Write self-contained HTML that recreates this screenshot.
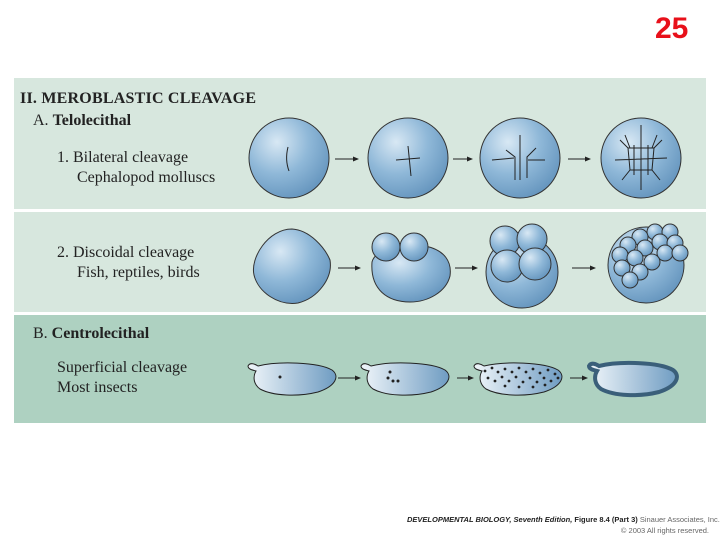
<!DOCTYPE html>
<html><head><style>
body{margin:0;width:720px;height:540px;background:#fff;overflow:hidden;font-family:"Liberation Serif",serif;}
</style></head><body>
<svg width="720" height="540" xmlns="http://www.w3.org/2000/svg">
<defs>
<radialGradient id="g" cx="0.35" cy="0.3" r="0.8">
<stop offset="0" stop-color="#d8e8f4"/><stop offset="0.5" stop-color="#8fb8d8"/><stop offset="1" stop-color="#5f90ba"/>
</radialGradient>
<linearGradient id="e" x1="0" y1="0" x2="1" y2="0">
<stop offset="0" stop-color="#f0f6fa"/><stop offset="1" stop-color="#6f9cc2"/>
</linearGradient>
<marker id="a" markerWidth="6" markerHeight="6" refX="5" refY="3" orient="auto"><path d="M0,0.5 L6,3 L0,5.5z" fill="#222"/></marker>
<path id="egg" d="M0,4 C2,0 7,2 10,4 C30,-1 70,0 84,8 C92,14 88,24 70,30 C50,35 25,34 12,27 C5,22 5,14 8,9 C4,8 0,7 0,4z"/>
</defs>
<text x="655" y="38" font-family="Liberation Sans" font-weight="bold" font-size="30" fill="#e8101a">25</text>
<rect x="14" y="78" width="692" height="131" fill="#d7e7de"/>
<rect x="14" y="212" width="692" height="100" fill="#d7e7de"/>
<rect x="14" y="315" width="692" height="108" fill="#aed1c1"/>
<g fill="#222" font-size="16">
<text x="20" y="103" font-weight="bold" textLength="236">II.  MEROBLASTIC CLEAVAGE</text>
<text x="33" y="125">A.  <tspan font-weight="bold">Telolecithal</tspan></text>
<text x="57" y="162">1.  Bilateral cleavage</text>
<text x="77" y="182">Cephalopod molluscs</text>
<text x="57" y="257">2.  Discoidal cleavage</text>
<text x="77" y="277">Fish, reptiles, birds</text>
<text x="33" y="338">B.  <tspan font-weight="bold">Centrolecithal</tspan></text>
<text x="57" y="372">Superficial cleavage</text>
<text x="57" y="392">Most insects</text>
</g>
<g stroke="#333" stroke-width="1" fill="url(#g)">
<circle cx="289" cy="158" r="40"/>
<circle cx="408" cy="158" r="40"/>
<circle cx="520" cy="158" r="40"/>
<circle cx="641" cy="158" r="40"/>
<path d="M292,229 C310,230 325,248 330,260 C333,278 318,298 298,303 C278,306 258,292 254,275 C250,258 268,229 292,229z"/>
<path d="M372,262 C375,250 395,245 425,246 C445,250 452,262 450,276 C446,292 428,302 410,302 C388,302 370,290 372,262z"/>
<circle cx="386" cy="247" r="14"/><circle cx="414" cy="247" r="14"/>
<circle cx="522" cy="272" r="36"/>
<circle cx="505" cy="241" r="15"/><circle cx="532" cy="239" r="15"/>
<circle cx="507" cy="266" r="16"/><circle cx="535" cy="264" r="16"/>
<circle cx="646" cy="265" r="38"/>
<g>
<circle cx="655" cy="232" r="8"/><circle cx="670" cy="232" r="8"/><circle cx="640" cy="237" r="8"/><circle cx="660" cy="242" r="8"/><circle cx="675" cy="243" r="8"/>
<circle cx="628" cy="245" r="8"/><circle cx="645" cy="248" r="8"/><circle cx="665" cy="253" r="8"/><circle cx="680" cy="253" r="8"/>
<circle cx="620" cy="255" r="8"/><circle cx="635" cy="258" r="8"/><circle cx="652" cy="262" r="8"/>
<circle cx="622" cy="268" r="8"/><circle cx="640" cy="272" r="8"/><circle cx="630" cy="280" r="8"/>
</g>
</g>
<g stroke="#222" fill="none" stroke-width="1">
<path d="M288,147 C286,155 286,163 289,171"/>
<path d="M396,160 L420,158 M408,146 L411,176"/>
<path d="M506,150 L515,157 L515,180 M520,135 L520,180 M536,148 L527,157 L527,178 M492,160 L514,158 M528,160 L545,160"/>
<path d="M615,160 L667,158 M641,125 L641,190 M620,140 L628,148 L630,170 L622,180 M662,140 L654,148 L652,170 L660,180 M628,148 L654,148 M630,170 L652,170 M634,145 L634,175 M648,145 L648,175 M625,135 L630,148 M657,135 L652,148"/>
</g>
<g stroke="#222" stroke-width="1" fill="url(#e)">
<use href="#egg" x="248" y="362"/>
<use href="#egg" x="361" y="362"/>
<use href="#egg" x="474" y="362"/>
<use href="#egg" x="589" y="362" stroke="#3a5f7a" stroke-width="4"/>
</g>
<g fill="#222">
<circle cx="280" cy="377" r="1.5"/>
<circle cx="390" cy="372" r="1.5"/><circle cx="388" cy="378" r="1.5"/><circle cx="393" cy="381" r="1.5"/><circle cx="398" cy="381" r="1.5"/>
<circle cx="485" cy="371" r="1.4"/><circle cx="492" cy="368" r="1.4"/><circle cx="498" cy="372" r="1.4"/><circle cx="505" cy="369" r="1.4"/><circle cx="512" cy="372" r="1.4"/><circle cx="519" cy="368" r="1.4"/><circle cx="526" cy="372" r="1.4"/><circle cx="533" cy="369" r="1.4"/><circle cx="540" cy="373" r="1.4"/><circle cx="548" cy="370" r="1.4"/><circle cx="555" cy="374" r="1.4"/>
<circle cx="488" cy="378" r="1.4"/><circle cx="495" cy="381" r="1.4"/><circle cx="502" cy="377" r="1.4"/><circle cx="509" cy="381" r="1.4"/><circle cx="516" cy="377" r="1.4"/><circle cx="523" cy="382" r="1.4"/><circle cx="530" cy="378" r="1.4"/><circle cx="537" cy="382" r="1.4"/><circle cx="544" cy="378" r="1.4"/><circle cx="551" cy="381" r="1.4"/><circle cx="558" cy="378" r="1.4"/>
<circle cx="505" cy="386" r="1.4"/><circle cx="519" cy="387" r="1.4"/><circle cx="533" cy="387" r="1.4"/><circle cx="545" cy="385" r="1.4"/>
</g>
<g stroke="#222" stroke-width="1" marker-end="url(#a)">
<line x1="335" y1="159" x2="358" y2="159"/><line x1="453" y1="159" x2="472" y2="159"/><line x1="568" y1="159" x2="590" y2="159"/>
<line x1="338" y1="268" x2="360" y2="268"/><line x1="455" y1="268" x2="477" y2="268"/><line x1="572" y1="268" x2="595" y2="268"/>
<line x1="338" y1="378" x2="360" y2="378"/><line x1="457" y1="378" x2="473" y2="378"/><line x1="570" y1="378" x2="587" y2="378"/>
</g>
<text x="407" y="522" font-family="Liberation Sans" font-size="7.5" fill="#222"><tspan font-weight="bold" font-style="italic">DEVELOPMENTAL BIOLOGY, Seventh Edition, </tspan><tspan font-weight="bold">Figure 8.4 (Part 3)</tspan><tspan fill="#666"> Sinauer Associates, Inc.</tspan></text>
<text x="709" y="533" text-anchor="end" font-family="Liberation Sans" font-size="7.5" fill="#666">© 2003 All rights reserved.</text>
</svg>
</body></html>
